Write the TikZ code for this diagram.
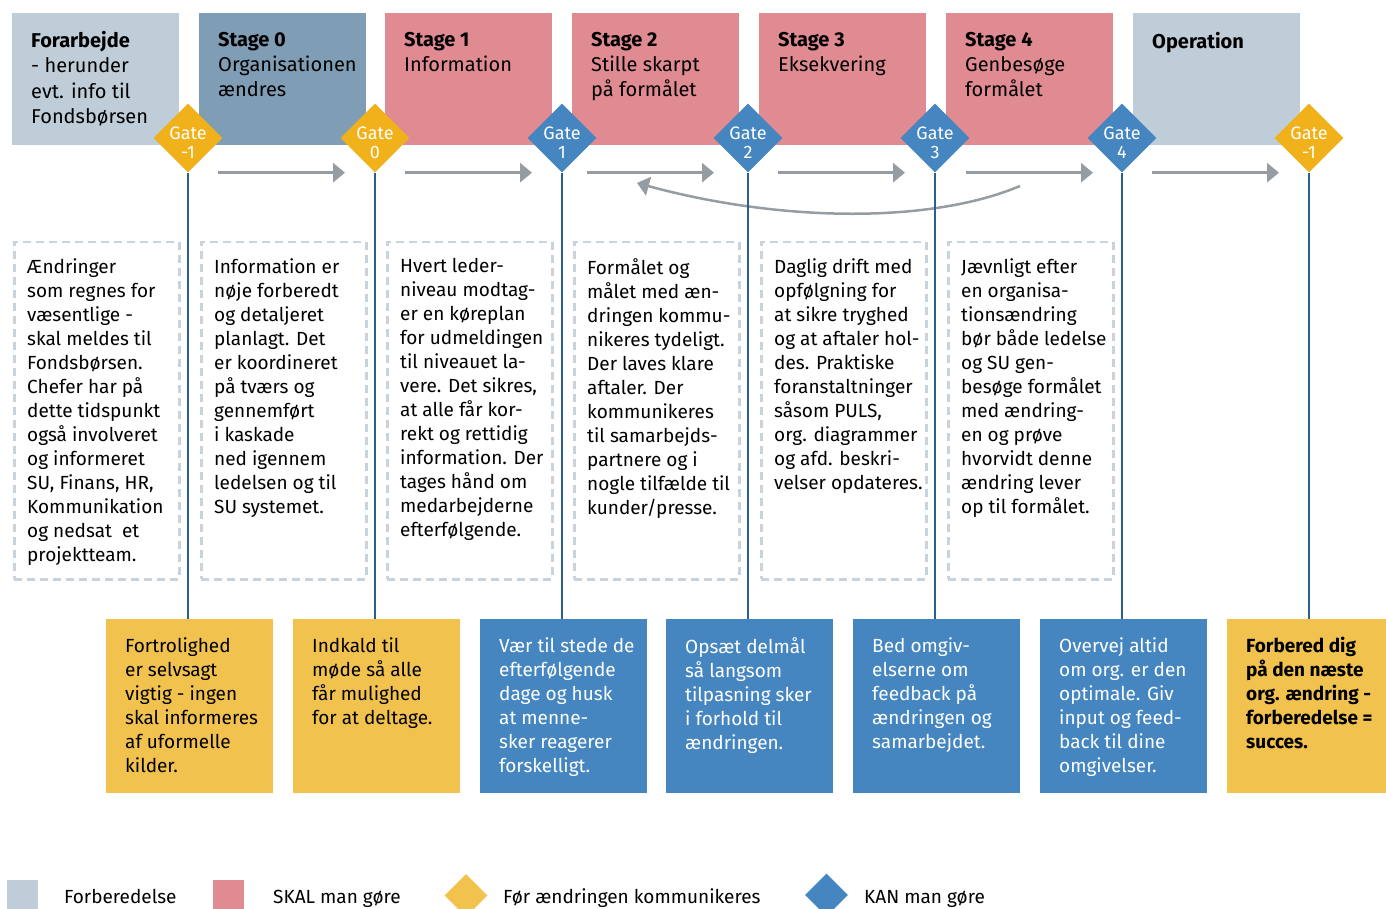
\documentclass[tikz,border=0pt]{standalone}
\usepackage{fontspec}
\setmainfont{Fira Sans}
\usetikzlibrary{shapes.geometric,arrows.meta}

\definecolor{prep}{HTML}{BFCDD8}
\definecolor{stagezero}{HTML}{7F9DB4}
\definecolor{must}{HTML}{E08A92}
\definecolor{gateyellow}{HTML}{F0B11A}
\definecolor{gateblue}{HTML}{4586C1}
\definecolor{noteyellow}{HTML}{F2C24F}
\definecolor{stemblue}{HTML}{2D5F8C}
\definecolor{flowgray}{HTML}{959CA2}
\definecolor{dashgray}{HTML}{C8D3DC}

\begin{document}
\begin{tikzpicture}[x=1pt,y=-1pt,
		stage/.style={rectangle,inner sep=0,minimum width=167,minimum height=132,anchor=north west},
		head/.style={anchor=north west,inner sep=0,align=left,font=\fontsize{20}{25.3}\selectfont},
		gate/.style={diamond,inner sep=0,minimum width=69,minimum height=69},
		gatetext/.style={text=white,align=center,inner sep=0,yshift=-5,font=\fontsize{18}{19}\selectfont},
		note/.style={rectangle,draw=dashgray,line width=2.5,dash pattern=on 8pt off 5pt,inner sep=0,minimum width=165,minimum height=337,anchor=north west},
		body/.style={anchor=north west,inner sep=0,align=left,font=\fontsize{19}{24}\selectfont},
		act/.style={rectangle,inner sep=0,minimum width=167,minimum height=174,anchor=north west},
		flow/.style={draw=flowgray,line width=3,-{Triangle[length=12pt,width=19pt]}},
		stem/.style={draw=stemblue,line width=1.5},
		legend/.style={anchor=base west,inner sep=0,font=\fontsize{19}{24}\selectfont}]
		\useasboundingbox (0,0) rectangle (1386,909);

		% phases along the top
		\node[stage,fill=prep](pre)at(12,13) {};
		\node[stage,fill=stagezero](st0)at(199,13) {};
		\node[stage,fill=must](st1)at(385,13) {};
		\node[stage,fill=must](st2)at(572,13) {};
		\node[stage,fill=must](st3)at(759,13) {};
		\node[stage,fill=must](st4)at(946,13) {};
		\node[stage,fill=prep](op)at(1133,13) {};

		\node[head](pre text)at([xshift=19,yshift=-18]pre.north west) {\textbf{Forarbejde}\\- herunder\\evt. info til\\Fondsbørsen};
		\node[head](st0 text)at([xshift=19,yshift=-19]st0.north west) {\textbf{Stage 0}\\Organisationen\\ændres};
		\node[head](st1 text)at([xshift=19,yshift=-19]st1.north west) {\textbf{Stage 1}\\Information};
		\node[head](st2 text)at([xshift=19,yshift=-19]st2.north west) {\textbf{Stage 2}\\Stille skarpt\\på formålet};
		\node[head](st3 text)at([xshift=19,yshift=-19]st3.north west) {\textbf{Stage 3}\\Eksekvering};
		\node[head](st4 text)at([xshift=19,yshift=-19]st4.north west) {\textbf{Stage 4}\\Genbesøge\\formålet};
		\node[head](op text)at([xshift=19,yshift=-19]op.north west) {\textbf{Operation}};

		% gates between the phases
		\node[gate,fill=gateyellow,label={[gatetext]center:Gate\\-1}](gm1)at(188,138) {};
		\node[gate,fill=gateyellow,label={[gatetext]center:Gate\\0}](g0)at(375,138) {};
		\node[gate,fill=gateblue,label={[gatetext]center:Gate\\1}](g1)at(562,138) {};
		\node[gate,fill=gateblue,label={[gatetext]center:Gate\\2}](g2)at(748,138) {};
		\node[gate,fill=gateblue,label={[gatetext]center:Gate\\3}](g3)at(935,138) {};
		\node[gate,fill=gateblue,label={[gatetext]center:Gate\\4}](g4)at(1122,138) {};
		\node[gate,fill=gateyellow,label={[gatetext]center:Gate\\-1}](gend)at(1309,138) {};

		\draw[flow]([xshift=30]gm1.south) -- ([xshift=-30]g0.south);
		\draw[flow]([xshift=30]g0.south) -- ([xshift=-30]g1.south);
		\draw[flow]([xshift=25]g1.south) -- ([xshift=-34]g2.south);
		\draw[flow]([xshift=30]g2.south) -- ([xshift=-30]g3.south);
		\draw[flow]([xshift=31]g3.south) -- ([xshift=-29]g4.south);
		\draw[flow]([xshift=30]g4.south) -- ([xshift=-30]gend.south);

		% back to stage 2
		\coordinate(loop start)at(1020,186);
		\coordinate(loop end)at(637,183);
		\draw[flow,line width=2.5](loop start) .. controls (930,224) and (780,222) .. (loop end);

		% descriptions
		\node[note](n1)at(13,241) {};
		\node[note](n2)at(200,241) {};
		\node[note](n3)at(386,241) {};
		\node[note](n4)at(573,241) {};
		\node[note](n5)at(760,241) {};
		\node[note](n6)at(947,241) {};

		\node[body](n1 text)at([xshift=14,yshift=-17]n1.north west) {Ændringer\\som regnes for\\væsentlige -\\skal meldes til\\Fondsbørsen.\\Chefer har på\\dette tidspunkt\\også involveret\\og informeret\\SU, Finans, HR,\\Kommunikation\\og nedsat\ \ et\\projektteam.};
		\node[body](n2 text)at([xshift=14,yshift=-17]n2.north west) {Information er\\nøje forberedt\\og detaljeret\\planlagt. Det\\er koordineret\\på tværs og\\gennemført\\i kaskade\\ned igennem\\ledelsen og til\\SU systemet.};
		\node[body](n3 text)at([xshift=14,yshift=-17]n3.north west) {Hvert leder-\\niveau modtag-\\er en køreplan\\for udmeldingen\\til niveauet la-\\vere. Det sikres,\\at alle får kor-\\rekt og rettidig\\information. Der\\tages hånd om\\medarbejderne\\efterfølgende.};
		\node[body](n4 text)at([xshift=14,yshift=-17]n4.north west) {Formålet og\\målet med æn-\\dringen kommu-\\nikeres tydeligt.\\Der laves klare\\aftaler. Der\\kommunikeres\\til samarbejds-\\partnere og i\\nogle tilfælde til\\kunder/presse.};
		\node[body](n5 text)at([xshift=14,yshift=-17]n5.north west) {Daglig drift med\\opfølgning for\\at sikre tryghed\\og at aftaler hol-\\des. Praktiske\\foranstaltninger\\såsom PULS,\\org. diagrammer\\og afd. beskri-\\velser opdateres.};
		\node[body](n6 text)at([xshift=14,yshift=-17]n6.north west) {Jævnligt efter\\en organisa-\\tionsændring\\bør både ledelse\\og SU gen-\\besøge formålet\\med ændring-\\en og prøve\\hvorvidt denne\\ændring lever\\op til formålet.};

		% what to do at each gate
		\node[act,fill=noteyellow](a1)at(106,619) {};
		\node[act,fill=noteyellow](a2)at(293,619) {};
		\node[act,fill=gateblue](a3)at(480,619) {};
		\node[act,fill=gateblue](a4)at(666,619) {};
		\node[act,fill=gateblue](a5)at(853,619) {};
		\node[act,fill=gateblue](a6)at(1040,619) {};
		\node[act,fill=noteyellow](a7)at(1227,619) {};

		\node[body](a1 text)at([xshift=19,yshift=-18]a1.north west) {Fortrolighed\\er selvsagt\\vigtig - ingen\\skal informeres\\af uformelle\\kilder.};
		\node[body](a2 text)at([xshift=19,yshift=-18]a2.north west) {Indkald til\\møde så alle\\får mulighed\\for at deltage.};
		\node[body,text=white](a3 text)at([xshift=19,yshift=-18]a3.north west) {Vær til stede de\\efterfølgende\\dage og husk\\at menne-\\sker reagerer\\forskelligt.};
		\node[body,text=white](a4 text)at([xshift=19,yshift=-18]a4.north west) {Opsæt delmål\\så langsom\\tilpasning sker\\i forhold til\\ændringen.};
		\node[body,text=white](a5 text)at([xshift=19,yshift=-18]a5.north west) {Bed omgiv-\\elserne om\\feedback på\\ændringen og\\samarbejdet.};
		\node[body,text=white](a6 text)at([xshift=19,yshift=-18]a6.north west) {Overvej altid\\om org. er den\\optimale. Giv\\input og feed-\\back til dine\\omgivelser.};
		\node[body,font=\fontsize{19}{24}\selectfont\bfseries](a7 text)at([xshift=19,yshift=-18]a7.north west) {Forbered dig\\på den næste\\org. ændring -\\forberedelse =\\succes.};

		\draw[stem](gm1.south) -- (gm1.south |- a1.north);
		\draw[stem](g0.south) -- (g0.south |- a2.north);
		\draw[stem](g1.south) -- (g1.south |- a3.north);
		\draw[stem](g2.south) -- (g2.south |- a4.north);
		\draw[stem](g3.south) -- (g3.south |- a5.north);
		\draw[stem](g4.south) -- (g4.south |- a6.north);
		\draw[stem](gend.south) -- (gend.south |- a7.north);

		% key
		\node[fill=prep,inner sep=0,minimum size=31](key prep)at(22.5,895.5) {};
		\node[legend](key prep text)at(64,903) {Forberedelse};
		\node[fill=must,inner sep=0,minimum size=31](key must)at(228.5,895.5) {};
		\node[legend](key must text)at(273,903) {SKAL man gøre};
		\node[gate,fill=noteyellow,minimum width=43,minimum height=43](key first)at(466,895.5) {};
		\node[legend](key first text)at(503,903) {Før ændringen kommunikeres};
		\node[gate,fill=gateblue,minimum width=43,minimum height=43](key can)at(826.5,895) {};
		\node[legend](key can text)at(864,903) {KAN man gøre};
\end{tikzpicture}
\end{document}
